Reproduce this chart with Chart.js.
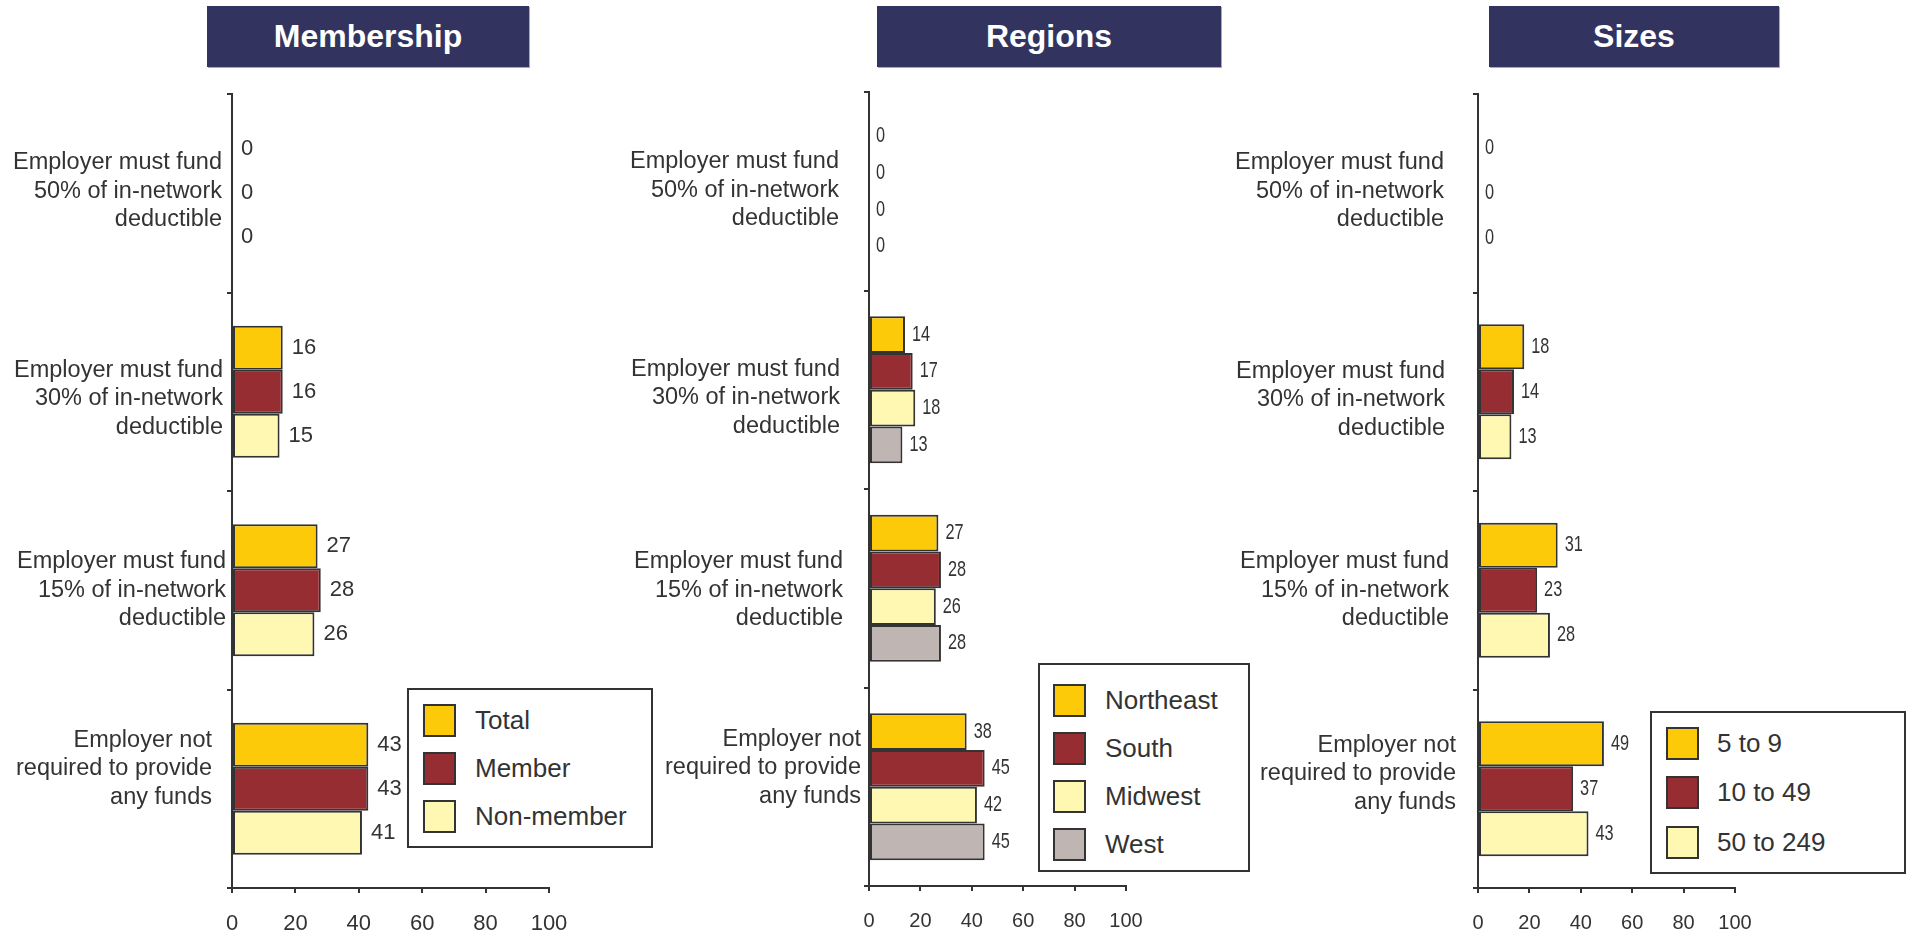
<!DOCTYPE html>
<html>
<head>
<meta charset="utf-8">
<script src="https://cdn.jsdelivr.net/npm/chart.js@4/dist/chart.umd.min.js"></script>
<style>
  html, body { margin: 0; padding: 0; background: #fff; }
  #page { position: relative; width: 1911px; height: 934px; overflow: hidden;
          font-family: 'Liberation Sans', Arial, sans-serif; color: #333; }
  .title { position: absolute; top: 6px; height: 61px; background: #333360; color: #fff;
           font-weight: bold; font-size: 32px; line-height: 61px; text-align: center;
           box-shadow: 1px 1px 0 #aaa; }
  .legend { position: absolute; background: #fff; border: 2px solid #333; box-sizing: border-box; }
  .legend .row { position: absolute; left: 0; right: 0; height: 33px; }
  .legend .sw { position: absolute; top: 0; width: 33px; height: 33px; border: 2px solid #333; box-sizing: border-box; }
  .legend .lbl { position: absolute; top: 0; line-height: 33px; font-size: 26px; white-space: nowrap; }
  canvas { position: absolute; }
</style>
</head>
<body>
<div id="page"></div>
<script>
const FONT = "'Liberation Sans', Arial, sans-serif";

const categories = [
  ['Employer must fund', '50% of in-network', 'deductible'],
  ['Employer must fund', '30% of in-network', 'deductible'],
  ['Employer must fund', '15% of in-network', 'deductible'],
  ['Employer not', 'required to provide', 'any funds']
];
const xTicks = [0, 20, 40, 60, 80, 100];

// Membership
const totalVals = [0, 16, 27, 43];
const memberVals = [0, 16, 28, 43];
const nonMemberVals = [0, 15, 26, 41];

// Regions
const northeastVals = [0, 14, 27, 38];
const southVals = [0, 17, 28, 45];
const midwestVals = [0, 18, 26, 42];
const westVals = [0, 13, 28, 45];

// Sizes
const size5to9Vals = [0, 18, 31, 49];
const size10to49Vals = [0, 14, 23, 37];
const size50to249Vals = [0, 13, 28, 43];

const YELLOW = '#fdca0a', RED = '#962d33', LIGHT = '#fff8b2', GREY = '#bfb6b3';
const Y_AXIS_WIDTH = 260;

const panels = [
  {
    title: 'Membership', titleLeft: 207, titleWidth: 322,
    axisX: 232, x100: 549, top: 94, bottom: 888, catPct: 0.665,
    valueFont: 22, valueSqueeze: 1, valueGap: 9, tickFont: 22,
    // distance of each category label from the axis, and its vertical nudge
    labelGap: [10, 9, 6, 20], labelDy: [-2, 7, 0, -20],
    series: [
      { label: 'Total', data: totalVals, color: YELLOW },
      { label: 'Member', data: memberVals, color: RED },
      { label: 'Non-member', data: nonMemberVals, color: LIGHT }
    ],
    legend: { left: 407, top: 688, width: 246, height: 160, swX: 14, txtX: 66, rows: [32, 80, 128] }
  },
  {
    title: 'Regions', titleLeft: 877, titleWidth: 344,
    axisX: 869, x100: 1126, top: 92, bottom: 886, catPct: 0.74,
    valueFont: 22, valueSqueeze: 0.74, valueGap: 7, tickFont: 20,
    labelGap: [30, 29, 26, 8], labelDy: [-1, 8, 2, -19],
    series: [
      { label: 'Northeast', data: northeastVals, color: YELLOW },
      { label: 'South', data: southVals, color: RED },
      { label: 'Midwest', data: midwestVals, color: LIGHT },
      { label: 'West', data: westVals, color: GREY }
    ],
    legend: { left: 1038, top: 663, width: 212, height: 209, swX: 13, txtX: 65, rows: [37, 85, 133, 181] }
  },
  {
    title: 'Sizes', titleLeft: 1489, titleWidth: 290,
    axisX: 1478, x100: 1735, top: 94, bottom: 888, catPct: 0.68,
    valueFont: 22, valueSqueeze: 0.74, valueGap: 7, tickFont: 20,
    labelGap: [34, 33, 29, 22], labelDy: [-2, 8, 0, -15],
    series: [
      { label: '5 to 9', data: size5to9Vals, color: YELLOW },
      { label: '10 to 49', data: size10to49Vals, color: RED },
      { label: '50 to 249', data: size50to249Vals, color: LIGHT }
    ],
    legend: { left: 1650, top: 711, width: 256, height: 163, swX: 14, txtX: 65, rows: [32, 81, 131] }
  }
];

// writes the number just past the end of every bar (squeeze < 1 gives narrow digits)
const valueLabels = {
  id: 'valueLabels',
  afterDatasetsDraw(chart, args, opts) {
    const ctx = chart.ctx;
    chart.data.datasets.forEach((ds, i) => {
      chart.getDatasetMeta(i).data.forEach((bar, j) => {
        ctx.save();
        ctx.fillStyle = '#333';
        ctx.font = opts.size + 'px ' + FONT;
        ctx.textBaseline = 'middle';
        ctx.textAlign = 'left';
        ctx.translate(bar.x + opts.gap, bar.y);
        ctx.scale(opts.squeeze, 1);
        ctx.fillText(String(ds.data[j]), 0, 0);
        ctx.restore();
      });
    });
  }
};

// category names, right aligned against the y axis
const categoryLabels = {
  id: 'categoryLabels',
  afterDraw(chart, args, opts) {
    const ctx = chart.ctx;
    const y = chart.scales.y;
    const lineH = 28.5;
    ctx.save();
    ctx.fillStyle = '#333';
    ctx.font = '23.5px ' + FONT;
    ctx.textAlign = 'right';
    ctx.textBaseline = 'middle';
    chart.data.labels.forEach((lines, i) => {
      const cy = y.getPixelForValue(i) + opts.dy[i];
      const x = chart.chartArea.left - opts.gap[i];
      lines.forEach((line, k) => {
        ctx.fillText(line, x, cy + (k - (lines.length - 1) / 2) * lineH);
      });
    });
    ctx.restore();
  }
};

const page = document.getElementById('page');
const CANVAS_TOP = 80;

panels.forEach(p => {
  const t = document.createElement('div');
  t.className = 'title';
  t.style.left = p.titleLeft + 'px';
  t.style.width = p.titleWidth + 'px';
  t.textContent = p.title;
  page.appendChild(t);

  const left = p.axisX - Y_AXIS_WIDTH;
  const width = p.x100 + 30 - left;
  const height = 934 - CANVAS_TOP;
  const canvas = document.createElement('canvas');
  canvas.style.left = left + 'px';
  canvas.style.top = CANVAS_TOP + 'px';
  canvas.width = width;
  canvas.height = height;
  canvas.style.width = width + 'px';
  canvas.style.height = height + 'px';
  page.appendChild(canvas);

  new Chart(canvas.getContext('2d'), {
    type: 'bar',
    data: {
      labels: categories,
      datasets: p.series.map(s => ({
        label: s.label,
        data: s.data,
        backgroundColor: s.color,
        borderColor: '#333',
        borderWidth: 2,
        borderSkipped: false,
        categoryPercentage: p.catPct,
        barPercentage: 1
      }))
    },
    options: {
      indexAxis: 'y',
      responsive: false,
      animation: false,
      layout: { padding: { top: p.top - CANVAS_TOP, right: 30, left: 0, bottom: 0 } },
      plugins: {
        legend: { display: false },
        tooltip: { enabled: false },
        valueLabels: { size: p.valueFont, squeeze: p.valueSqueeze, gap: p.valueGap },
        categoryLabels: { gap: p.labelGap, dy: p.labelDy }
      },
      scales: {
        y: {
          afterFit: scale => {
            scale.width = Y_AXIS_WIDTH;
            scale.paddingTop = 0;
            scale.paddingBottom = 0;
          },
          grid: { offset: true, drawOnChartArea: false, drawTicks: true, tickLength: 5, color: '#333', lineWidth: 2 },
          border: { display: true, color: '#333', width: 2 },
          ticks: { display: false }
        },
        x: {
          min: 0, max: 100,
          afterFit: scale => {
            scale.height = 934 - p.bottom;
            scale.paddingLeft = 0;
            scale.paddingRight = 0;
          },
          afterBuildTicks: scale => { scale.ticks = xTicks.map(v => ({ value: v })); },
          grid: { drawOnChartArea: false, drawTicks: true, tickLength: 5, color: '#333', lineWidth: 2 },
          border: { display: true, color: '#333', width: 2 },
          ticks: { autoSkip: false, padding: 18, color: '#333', maxRotation: 0, font: { family: FONT, size: p.tickFont } }
        }
      }
    },
    plugins: [valueLabels, categoryLabels]
  });

  const lg = document.createElement('div');
  lg.className = 'legend';
  Object.assign(lg.style, {
    left: p.legend.left + 'px', top: p.legend.top + 'px',
    width: p.legend.width + 'px', height: p.legend.height + 'px'
  });
  p.series.forEach((s, i) => {
    const row = document.createElement('div');
    row.className = 'row';
    row.style.top = (p.legend.rows[i] - 16.5 - 2) + 'px';
    const sw = document.createElement('div');
    sw.className = 'sw';
    sw.style.left = p.legend.swX + 'px';
    sw.style.background = s.color;
    const lbl = document.createElement('div');
    lbl.className = 'lbl';
    lbl.style.left = p.legend.txtX + 'px';
    lbl.textContent = s.label;
    row.appendChild(sw);
    row.appendChild(lbl);
    lg.appendChild(row);
  });
  page.appendChild(lg);
});
</script>
</body>
</html>
